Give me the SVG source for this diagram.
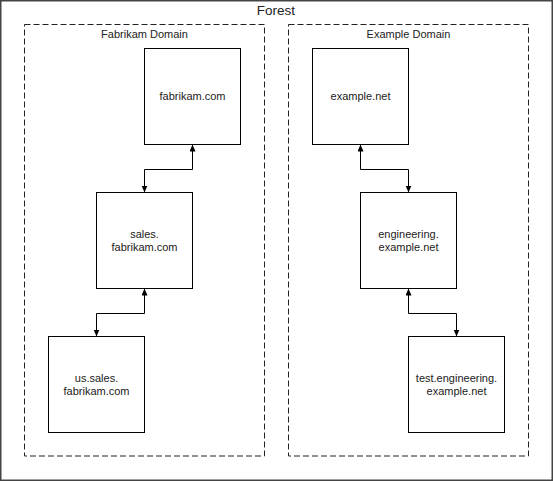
<svg xmlns="http://www.w3.org/2000/svg" width="553" height="481" viewBox="0 0 553 481">
  <style>
    text { font-family: "Liberation Sans", Arial, sans-serif; fill: #222; text-anchor: middle; }
    .lbl { font-size: 11px; }
    .title { font-size: 13.5px; }
    .node rect { fill: #fff; stroke: #000; stroke-width: 1; }
    .domain { fill: none; stroke: #222; stroke-width: 1; stroke-dasharray: 6 3; }
    .conn path { fill: none; stroke: #000; stroke-width: 1; marker-start: url(#arrow); marker-end: url(#arrow); }
  </style>
  <defs>
    <marker id="arrow" viewBox="0 0 7 6" refX="7" refY="3" markerWidth="7" markerHeight="6" markerUnits="userSpaceOnUse" orient="auto-start-reverse">
      <path d="M0,0 L7,3 L0,6 z" fill="#000"/>
    </marker>
  </defs>
  <rect width="553" height="481" fill="#fff"/>
  <g id="forest">
    <rect x="0.75" y="0.75" width="551.5" height="479.5" fill="none" stroke="#444" stroke-width="1.5"/>
    <text class="title" x="276" y="15">Forest</text>
  </g>
  <g id="fabrikam-domain">
    <rect class="domain" x="24.5" y="24.5" width="240" height="431.5"/>
    <text class="lbl" x="144.5" y="38">Fabrikam Domain</text>
  </g>
  <g id="example-domain">
    <rect class="domain" x="288.5" y="24.5" width="240" height="431.5"/>
    <text class="lbl" x="408.5" y="38">Example Domain</text>
  </g>
  <g id="fabrikam-com" class="node">
    <rect x="144.5" y="48.5" width="96" height="96"/>
    <text class="lbl" x="192.5" y="100">fabrikam.com</text>
  </g>
  <g id="sales-fabrikam-com" class="node">
    <rect x="96.5" y="192.5" width="96" height="96"/>
    <text class="lbl"><tspan x="144.5" y="237.5">sales.</tspan><tspan x="144.5" y="250.5">fabrikam.com</tspan></text>
  </g>
  <g id="us-sales-fabrikam-com" class="node">
    <rect x="48.5" y="336.5" width="96" height="96"/>
    <text class="lbl"><tspan x="96.5" y="381.5">us.sales.</tspan><tspan x="96.5" y="394.5">fabrikam.com</tspan></text>
  </g>
  <g id="example-net" class="node">
    <rect x="312.5" y="48.5" width="96" height="96"/>
    <text class="lbl" x="360.5" y="100">example.net</text>
  </g>
  <g id="engineering-example-net" class="node">
    <rect x="360.5" y="192.5" width="96" height="96"/>
    <text class="lbl"><tspan x="408.5" y="237.5">engineering.</tspan><tspan x="408.5" y="250.5">example.net</tspan></text>
  </g>
  <g id="test-engineering-example-net" class="node">
    <rect x="408.5" y="336.5" width="96" height="96"/>
    <text class="lbl"><tspan x="456.5" y="381.5">test.engineering.</tspan><tspan x="456.5" y="394.5">example.net</tspan></text>
  </g>
  <g id="connectors" class="conn">
    <path d="M192.5,144.5 V169.5 H144.5 V192.5"/>
    <path d="M144.5,288.5 V313.5 H96.5 V336.5"/>
    <path d="M360.5,144.5 V169.5 H408.5 V192.5"/>
    <path d="M408.5,288.5 V313.5 H456.5 V336.5"/>
  </g>
</svg>
